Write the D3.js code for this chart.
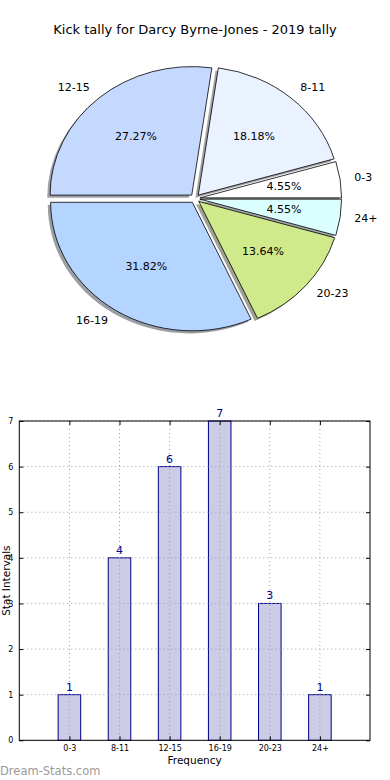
<!DOCTYPE html>
<html><head><meta charset="utf-8">
<script src="https://cdn.jsdelivr.net/npm/d3@7"></script>
<style>
html,body{margin:0;padding:0;background:#fff;}
svg{display:block;font-family:"DejaVu Sans",sans-serif;}
</style></head>
<body>
<svg id="c" width="390" height="780"></svg>
<script>
const title = "Kick tally for Darcy Byrne-Jones - 2019 tally";
const categories = ["0-3","8-11","12-15","16-19","20-23","24+"];
const counts = [1,4,6,7,3,1];
const sliceColors = ["#ffffff","#eaf1ff","#c5d9ff","#b4d5ff","#d0e98b","#dbffff"];
const yTicks = [0,1,2,3,4,5,6,7];
const xLabel = "Frequency";
const yLabel = "Stat Intervals";
const watermark = "Dream-Stats.com";

const svg = d3.select("#c");

// Title
svg.append("text").attr("x",195).attr("y",30).attr("text-anchor","middle")
  .attr("dominant-baseline","middle").attr("font-size",13).attr("fill","#000").text(title);

// ---------- Pie ----------
const cx = 195, cy = 198.5, rx = 141.7, ry = 128.5, explode = 0.035;
const total = d3.sum(counts);
const pie = d3.pie().sort(null).startAngle(Math.PI/2).endAngle(Math.PI/2 - 2*Math.PI);
const arcs = pie(counts);
const arc = d3.arc().innerRadius(0).outerRadius(1);
const pieG = svg.append("g");
function shifted(d){
  const a = (d.startAngle + d.endAngle)/2;
  return [cx + explode*rx*Math.sin(a), cy - explode*ry*Math.cos(a), a];
}
// shadows
arcs.forEach((d,i)=>{
  const [sx,sy] = shifted(d);
  const c = d3.rgb(sliceColors[i]);
  const sc = d3.rgb(c.r*0.3,c.g*0.3,c.b*0.3);
  pieG.append("path").attr("d",arc(d))
    .attr("transform",`translate(${sx-0.02*rx},${sy+0.02*ry}) scale(${rx},${ry})`)
    .attr("fill",sc.formatHex()).attr("fill-opacity",0.5);
});
arcs.forEach((d,i)=>{
  const [sx,sy] = shifted(d);
  pieG.append("path").attr("d",arc(d))
    .attr("transform",`translate(${sx},${sy}) scale(${rx},${ry})`)
    .attr("fill",sliceColors[i]).attr("stroke","#000").attr("stroke-width",0.8)
    .attr("vector-effect","non-scaling-stroke").attr("stroke-linejoin","round");
});
arcs.forEach((d,i)=>{
  const [sx,sy,a] = shifted(d);
  const lx = sx + 1.1*rx*Math.sin(a), ly = sy - 1.1*ry*Math.cos(a);
  pieG.append("text").attr("x",lx).attr("y",ly)
    .attr("text-anchor", Math.sin(a) > 0 ? "start" : "end")
    .attr("dominant-baseline","middle").attr("font-size",11).attr("fill","#000")
    .text(categories[i]);
  const px = sx + 0.6*rx*Math.sin(a), py = sy - 0.6*ry*Math.cos(a);
  pieG.append("text").attr("x",px).attr("y",py).attr("text-anchor","middle")
    .attr("dominant-baseline","middle").attr("font-size",11).attr("fill","#000")
    .text((counts[i]/total*100).toFixed(2)+"%");
});

// ---------- Bar chart ----------
const L = 19.3, R = 370, T = 421, B = 740.3;
const x = d3.scaleLinear().domain([-1, categories.length]).range([L, R]);
const y = d3.scaleLinear().domain([0, 7]).range([B, T]);
const barW = 0.45;
const bg = svg.append("g");

bg.selectAll("rect.bar").data(counts).enter().append("rect").attr("class","bar")
  .attr("x",(d,i)=>x(i - barW/2)).attr("width",x(barW)-x(0))
  .attr("y",d=>y(d)).attr("height",d=>y(0)-y(d))
  .attr("fill","#ccccE6").attr("stroke","#00008b").attr("stroke-width",1);

// grid
bg.selectAll("line.gy").data(yTicks).enter().append("line")
  .attr("x1",L).attr("x2",R).attr("y1",d=>y(d)).attr("y2",d=>y(d))
  .attr("stroke","#a0a0a0").attr("stroke-width",1).attr("stroke-dasharray","1,3");
bg.selectAll("line.gx").data(categories).enter().append("line")
  .attr("x1",(d,i)=>x(i)).attr("x2",(d,i)=>x(i)).attr("y1",T).attr("y2",B)
  .attr("stroke","#a0a0a0").attr("stroke-width",1).attr("stroke-dasharray","1,3");

// frame
bg.append("rect").attr("x",L).attr("y",T).attr("width",R-L).attr("height",B-T)
  .attr("fill","none").attr("stroke","#000").attr("stroke-width",1);

// axes via d3
const yAxis = d3.axisLeft(y).tickValues(yTicks).tickFormat(d3.format("d")).tickSizeInner(-4).tickSizeOuter(0).tickPadding(6);
const ya = bg.append("g").attr("transform",`translate(${L},0)`).call(yAxis);
ya.select(".domain").remove();
ya.selectAll("text").attr("font-size",8).attr("font-family","DejaVu Sans").attr("fill","#000");
ya.selectAll("line").attr("stroke","#000");
const yAxisR = d3.axisRight(y).tickValues(yTicks).tickFormat("").tickSizeInner(-4).tickSizeOuter(0);
const yr = bg.append("g").attr("transform",`translate(${R},0)`).call(yAxisR);
yr.select(".domain").remove();

const xAxis = d3.axisBottom(x).tickValues(d3.range(categories.length)).tickFormat(i=>categories[i]).tickSizeInner(-4).tickSizeOuter(0).tickPadding(5);
const xa = bg.append("g").attr("transform",`translate(0,${B})`).call(xAxis);
xa.select(".domain").remove();
xa.selectAll("text").attr("font-size",8).attr("font-family","DejaVu Sans").attr("fill","#000");
const xAxisT = d3.axisTop(x).tickValues(d3.range(categories.length)).tickFormat("").tickSizeInner(-4).tickSizeOuter(0);
const xt = bg.append("g").attr("transform",`translate(0,${T})`).call(xAxisT);
xt.select(".domain").remove();

// value labels
bg.selectAll("text.val").data(counts).enter().append("text")
  .attr("x",(d,i)=>x(i)).attr("y",d=>y(d)-4).attr("text-anchor","middle")
  .attr("font-size",11).attr("fill","#00008b").text(d=>d);

// axis labels
svg.append("text").attr("x",(L+R)/2).attr("y",761).attr("text-anchor","middle")
  .attr("dominant-baseline","middle").attr("font-size",10.5).attr("fill","#000").text(xLabel);
svg.append("text").attr("transform",`translate(6.5,${(T+B)/2}) rotate(-90)`).attr("text-anchor","middle")
  .attr("dominant-baseline","middle").attr("font-size",10.5).attr("fill","#000").text(yLabel);

// watermark
svg.append("text").attr("x",0).attr("y",775).attr("font-size",11.5)
  .attr("fill","#9a9a9a").text(watermark);
</script>
</body></html>
